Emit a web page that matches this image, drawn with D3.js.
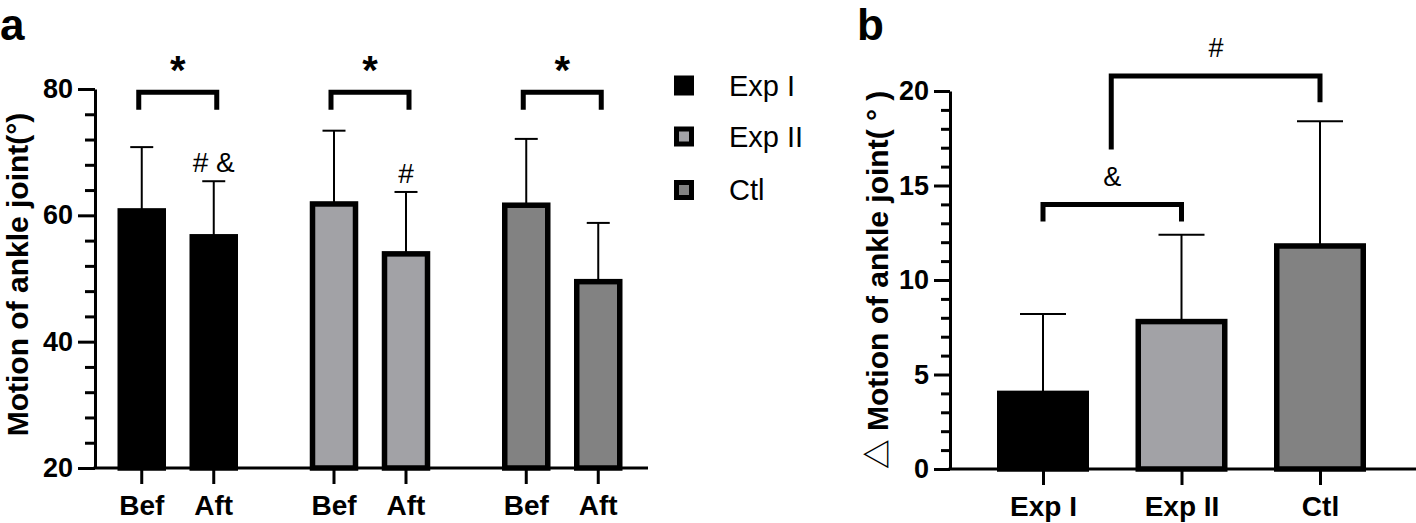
<!DOCTYPE html>
<html><head><meta charset="utf-8">
<script src="https://cdn.jsdelivr.net/npm/d3@7"></script>
<style>
html,body{margin:0;padding:0;background:#fff;}
svg{display:block;font-family:"Liberation Sans",Arial,"Noto Sans CJK SC",sans-serif;}
</style></head>
<body>
<svg id="chart" width="1416" height="523"></svg>
<script>
// ---------- data ----------
const groups = ["Exp I", "Exp II", "Ctl"];
const times = ["Bef", "Aft"];
const befMeans = [60.7, 61.8, 61.6];
const befSD    = [10.1, 11.6, 10.5];
const aftMeans = [56.6, 53.9, 49.5];
const aftSD    = [8.8, 9.8, 9.3];
const aftMarks = ["# &", "#", ""];
const pairMarks = ["*", "*", "*"];
const deltaMeans = [4.0, 7.8, 11.8];
const deltaSD    = [4.2, 4.6, 6.6];
const ticksA = [20, 40, 60, 80];
const ticksB = [0, 5, 10, 15, 20];
const colors = ["#000000", "#a2a2a6", "#828282"];

const svg = d3.select("#chart");
const FONT = '"Liberation Sans",Arial,"Noto Sans CJK SC",sans-serif';

function styleAxis(g) {
  g.select(".domain").attr("stroke", "#000").attr("stroke-width", 3);
  g.selectAll(".tick line").attr("stroke", "#000").attr("stroke-width", 3);
  g.selectAll(".tick text").attr("fill", "#000").attr("font-family", FONT).attr("font-weight", "bold");
}

// ---------- panel a ----------
const xA0 = 95, xA1 = 648;
const yA = d3.scaleLinear().domain([20, 80]).range([468, 89]);
const xGroupA = d3.scalePoint().domain(groups).range([177.75, 562.25]);
const xInnerA = d3.scalePoint().domain(times).range([-36, 36]);
const barWA = 43;

const rowsA = [];
groups.forEach((g, i) => {
  rowsA.push({g, i, t: "Bef", m: befMeans[i], sd: befSD[i]});
  rowsA.push({g, i, t: "Aft", m: aftMeans[i], sd: aftSD[i]});
});
const cx = d => xGroupA(d.g) + xInnerA(d.t);

const pa = svg.append("g");
// error bars
pa.selectAll(".errA").data(rowsA).join("g").each(function(d) {
  const gg = d3.select(this);
  gg.append("line").attr("x1", cx(d)).attr("x2", cx(d))
    .attr("y1", yA(d.m)).attr("y2", yA(d.m + d.sd)).attr("stroke", "#000").attr("stroke-width", 2);
  gg.append("line").attr("x1", cx(d) - 11.5).attr("x2", cx(d) + 11.5)
    .attr("y1", yA(d.m + d.sd)).attr("y2", yA(d.m + d.sd)).attr("stroke", "#000").attr("stroke-width", 2);
});
// bars
pa.selectAll(".barA").data(rowsA).join("rect")
  .attr("x", d => cx(d) - barWA / 2).attr("width", barWA)
  .attr("y", d => yA(d.m)).attr("height", d => yA(20) - yA(d.m))
  .attr("fill", d => colors[d.i]).attr("stroke", "#000").attr("stroke-width", 5.5);

// axes
const yAxisA = pa.append("g").attr("transform", `translate(${xA0},0)`)
  .call(d3.axisLeft(yA).tickValues(ticksA).tickSize(17).tickSizeOuter(0).tickPadding(5));
styleAxis(yAxisA);
yAxisA.selectAll(".tick text").attr("font-size", 27);
const minorA = d3.range(20, 80.01, 4).filter(v => !ticksA.includes(v));
pa.append("g").attr("transform", `translate(${xA0},0)`)
  .call(d3.axisLeft(yA).tickValues(minorA).tickSize(10).tickFormat(""))
  .call(g => { g.select(".domain").remove(); g.selectAll("line").attr("stroke", "#000").attr("stroke-width", 3); });

pa.append("line").attr("x1", xA0 - 1.5).attr("x2", xA1).attr("y1", yA(20)).attr("y2", yA(20))
  .attr("stroke", "#000").attr("stroke-width", 3);
pa.selectAll(".xtA").data(rowsA).join("g").each(function(d) {
  const gg = d3.select(this);
  gg.append("line").attr("x1", cx(d)).attr("x2", cx(d)).attr("y1", yA(20)).attr("y2", yA(20) + 16)
    .attr("stroke", "#000").attr("stroke-width", 3);
  gg.append("text").attr("x", cx(d)).attr("y", 515).attr("text-anchor", "middle")
    .attr("font-size", 28).attr("font-weight", "bold").text(d.t);
});

// brackets & marks
groups.forEach((g, i) => {
  const x0 = xGroupA(g) + xInnerA("Bef") - 3, x1 = xGroupA(g) + xInnerA("Aft") + 3;
  const yt = yA(79.5), yb = yA(76.7);
  pa.append("path").attr("d", `M${x0},${yb}V${yt}H${x1}V${yb}`)
    .attr("fill", "none").attr("stroke", "#000").attr("stroke-width", 5);
  pa.append("text").attr("x", (x0 + x1) / 2).attr("y", 84).attr("text-anchor", "middle")
    .attr("font-size", 40).attr("font-weight", "bold").text(pairMarks[i]);
  if (aftMarks[i]) {
    pa.append("text").attr("x", xGroupA(g) + xInnerA("Aft")).attr("y", yA(aftMeans[i] + aftSD[i]) - 9)
      .attr("text-anchor", "middle").attr("font-size", 28).text(aftMarks[i]);
  }
});

pa.append("text").attr("transform", `translate(28,${(yA(20) + yA(80)) / 2 - 4}) rotate(-90)`)
  .attr("text-anchor", "middle").attr("font-size", 30).attr("font-weight", "bold")
  .text("Motion of ankle joint(°)");
svg.append("text").attr("x", 0).attr("y", 40).attr("font-size", 44).attr("font-weight", "bold").text("a");

// legend
const legY = [85.5, 136.5, 190];
groups.forEach((g, i) => {
  svg.append("rect").attr("x", 684 - 7.5).attr("y", legY[i] - 7.5).attr("width", 15).attr("height", 15)
    .attr("fill", colors[i]).attr("stroke", "#000").attr("stroke-width", 5);
  svg.append("text").attr("x", 729).attr("y", legY[i] + 10).attr("font-size", 29).text(g);
});

// ---------- panel b ----------
const xB0 = 950, xB1 = 1416;
const yB = d3.scaleLinear().domain([0, 20]).range([469, 91]);
const xB = d3.scalePoint().domain(groups).range([1043, 1320]);
const barWB = 86.5;
const rowsB = groups.map((g, i) => ({g, i, m: deltaMeans[i], sd: deltaSD[i]}));
const pb = svg.append("g");
pb.selectAll(".errB").data(rowsB).join("g").each(function(d) {
  const gg = d3.select(this), x = xB(d.g);
  gg.append("line").attr("x1", x).attr("x2", x).attr("y1", yB(d.m)).attr("y2", yB(d.m + d.sd))
    .attr("stroke", "#000").attr("stroke-width", 2);
  gg.append("line").attr("x1", x - 23).attr("x2", x + 23).attr("y1", yB(d.m + d.sd)).attr("y2", yB(d.m + d.sd))
    .attr("stroke", "#000").attr("stroke-width", 2);
});
pb.selectAll(".barB").data(rowsB).join("rect")
  .attr("x", d => xB(d.g) - barWB / 2).attr("width", barWB)
  .attr("y", d => yB(d.m)).attr("height", d => yB(0) - yB(d.m))
  .attr("fill", d => colors[d.i]).attr("stroke", "#000").attr("stroke-width", 5.5);

const yAxisB = pb.append("g").attr("transform", `translate(${xB0},0)`)
  .call(d3.axisLeft(yB).tickValues(ticksB).tickSize(16).tickSizeOuter(0).tickPadding(5));
styleAxis(yAxisB);
yAxisB.selectAll(".tick text").attr("font-size", 27);
const minorB = d3.range(0, 20.01, 1).filter(v => !ticksB.includes(v));
pb.append("g").attr("transform", `translate(${xB0},0)`)
  .call(d3.axisLeft(yB).tickValues(minorB).tickSize(9).tickFormat(""))
  .call(g => { g.select(".domain").remove(); g.selectAll("line").attr("stroke", "#000").attr("stroke-width", 3); });
const xAxisB = pb.append("g").attr("transform", `translate(0,${yB(0)})`)
  .call(d3.axisBottom(xB).tickSize(16).tickSizeOuter(0).tickPadding(11));
xAxisB.select(".domain").attr("d", `M${xB0 - 1.5},0H${xB1}`);
styleAxis(xAxisB);
xAxisB.selectAll(".tick text").attr("font-size", 28);

// brackets panel b
const xm = (xB("Exp I") + xB("Exp II")) / 2;
pb.append("path").attr("d", `M${xB("Exp I")},${yB(13.1)}V${yB(14.0)}H${xB("Exp II")}V${yB(13.1)}`)
  .attr("fill", "none").attr("stroke", "#000").attr("stroke-width", 5);
pb.append("text").attr("x", xm).attr("y", 186).attr("text-anchor", "middle").attr("font-size", 27).text("&");
pb.append("path").attr("d", `M${xm - 1},${yB(16.9)}V${yB(20.8)}H${xB("Ctl")}V${yB(19.4)}`)
  .attr("fill", "none").attr("stroke", "#000").attr("stroke-width", 5);
pb.append("text").attr("x", (xm + xB("Ctl")) / 2).attr("y", 57).attr("text-anchor", "middle").attr("font-size", 27).text("#");

pb.append("text").attr("transform", `translate(888,${(yB(0) + yB(20)) / 2}) rotate(-90)`)
  .attr("text-anchor", "middle").attr("font-size", 30).attr("font-weight", "bold")
  .text("△ Motion of ankle joint( ° )");
svg.append("text").attr("x", 857).attr("y", 40).attr("font-size", 44).attr("font-weight", "bold").text("b");
</script>
</body></html>
